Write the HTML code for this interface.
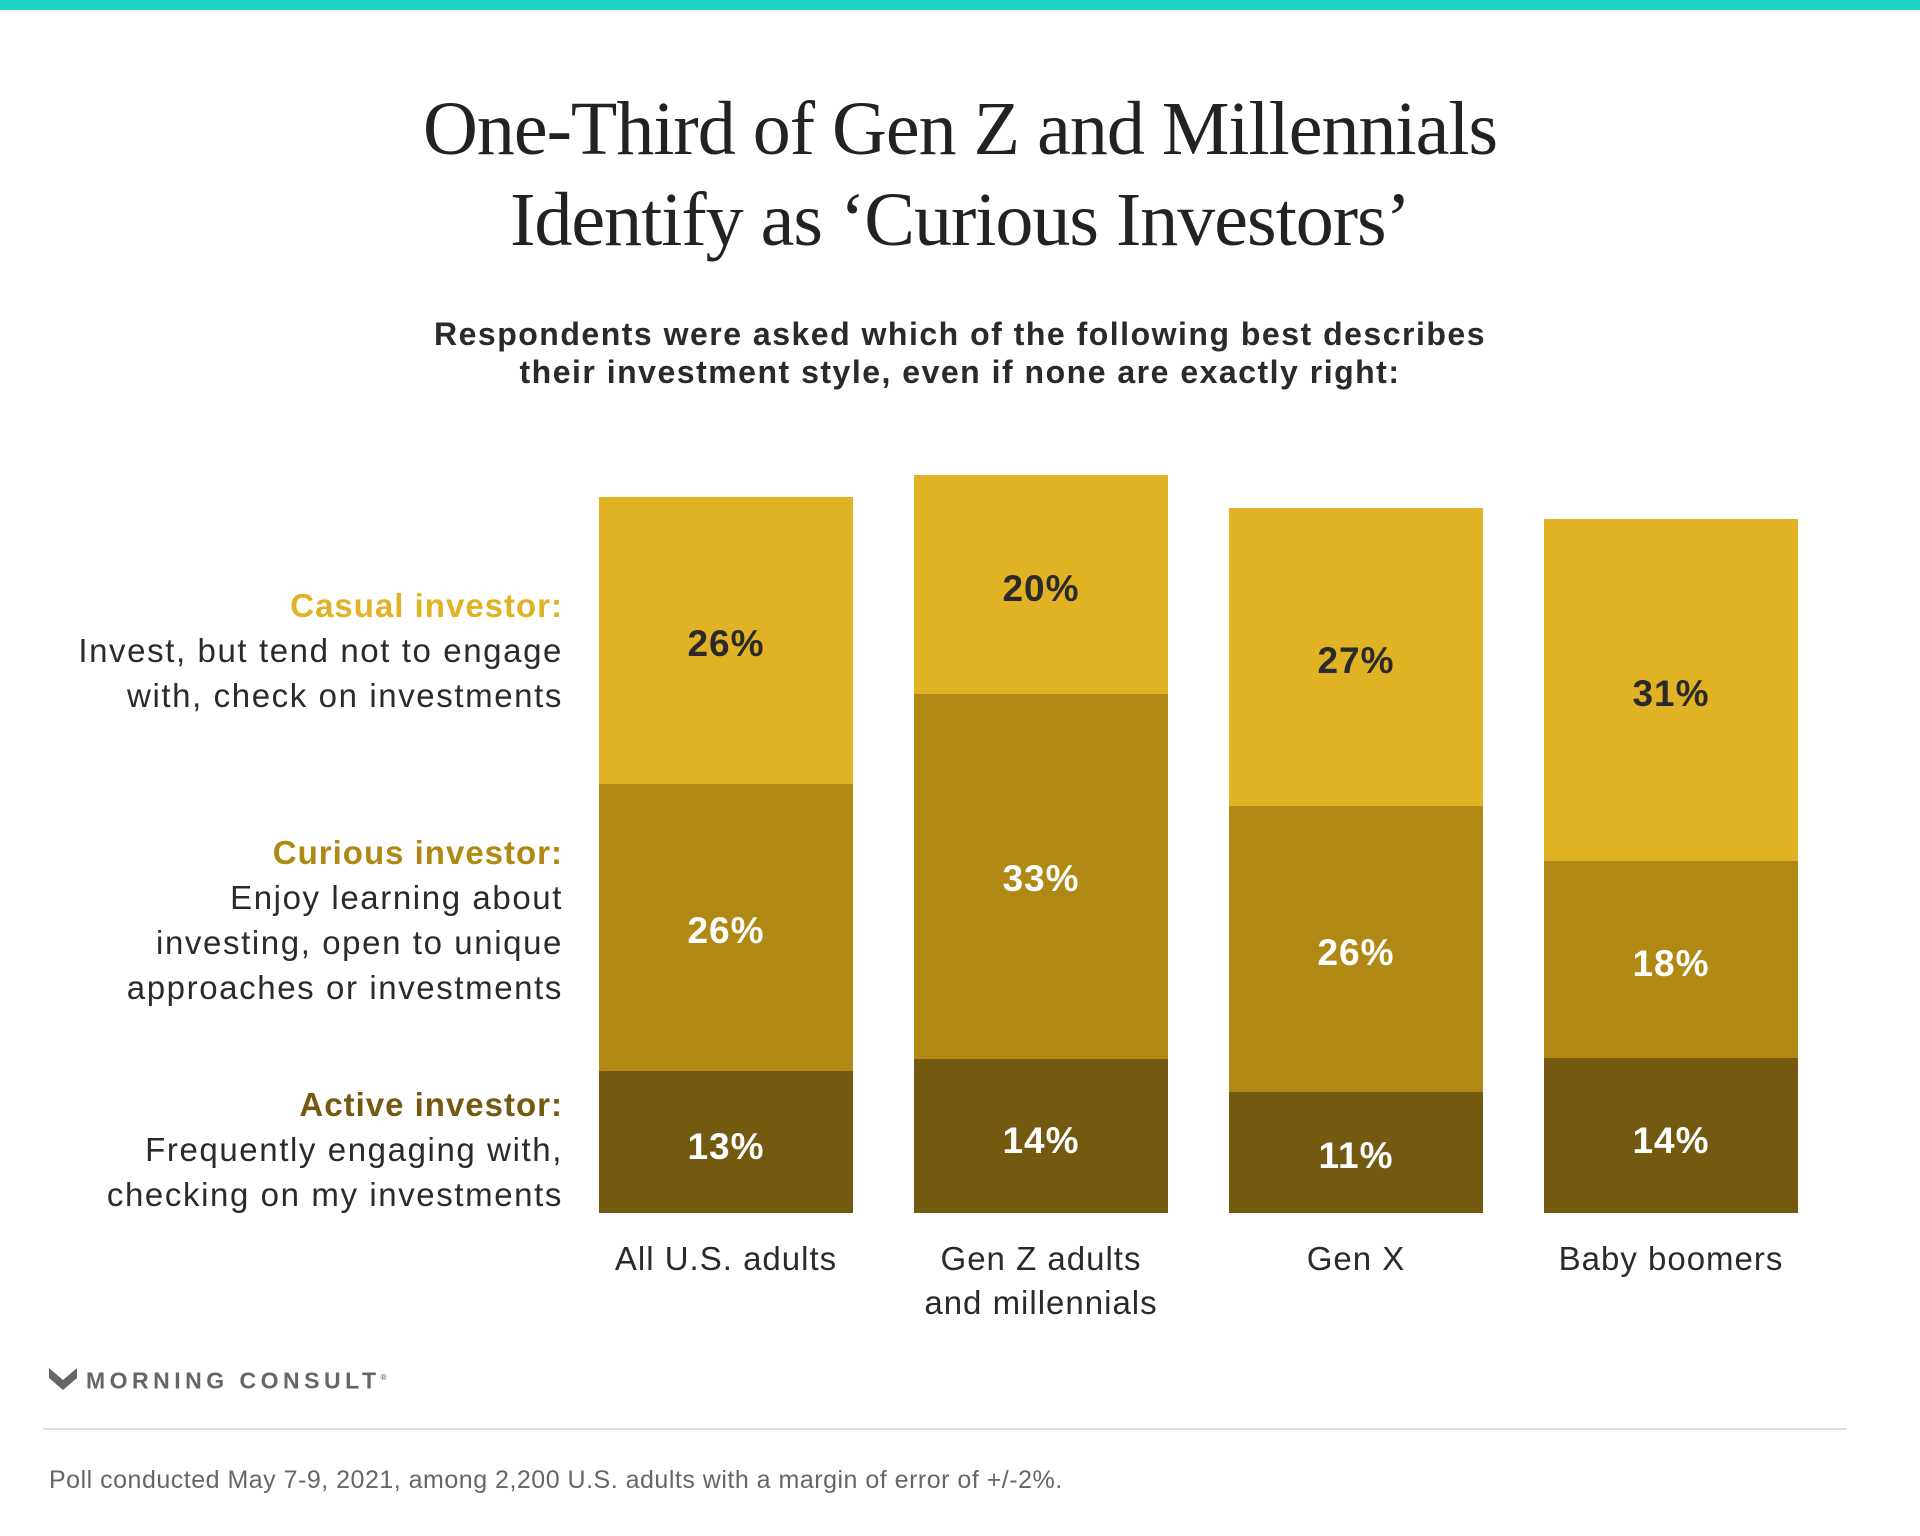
<!DOCTYPE html>
<html><head><meta charset="utf-8"><style>
body{margin:0;width:1920px;height:1536px;background:#fff;position:relative;overflow:hidden;font-family:"Liberation Sans",sans-serif}
.a{position:absolute}
.t{left:0;width:1920px;text-align:center;font-family:"Liberation Serif",serif;font-size:76px;color:#222;line-height:90px;letter-spacing:-1px}
.s{left:0;width:1920px;text-align:center;font-weight:bold;font-size:32px;color:#2a2a2a;line-height:40px;letter-spacing:1.5px}
.l{right:1357px;text-align:right;font-size:33px;color:#2a2a2a;line-height:45px;white-space:nowrap;letter-spacing:1.6px}
.l b{display:block;letter-spacing:1px}
.bar{position:absolute;width:254px}
.v{position:absolute;width:254px;text-align:center;font-weight:bold;font-size:37px;line-height:40px;letter-spacing:1px}
.x{position:absolute;width:340px;text-align:center;font-size:33px;color:#2a2a2a;line-height:44px;letter-spacing:1px}
</style></head><body>
<div class="a" style="left:0;top:0;width:1920px;height:10px;background:#1fd3c6"></div>
<div class="a t" style="top:84px">One-Third of Gen Z and Millennials</div>
<div class="a t" style="top:175px">Identify as ‘Curious Investors’</div>
<div class="a s" style="top:314px">Respondents were asked which of the following best describes</div>
<div class="a s" style="top:352px">their investment style, even if none are exactly right:</div>

<div class="a l" style="top:583px"><b style="color:#e2b225">Casual investor:</b>Invest, but tend not to engage<br>with, check on investments</div>
<div class="a l" style="top:830px"><b style="color:#b08915">Curious investor:</b>Enjoy learning about<br>investing, open to unique<br>approaches or investments</div>
<div class="a l" style="top:1082px"><b style="color:#745a10">Active investor:</b>Frequently engaging with,<br>checking on my investments</div>

<div class="bar" style="left:599px;top:497px;height:287px;background:#e2b225"></div>
<div class="bar" style="left:599px;top:784px;height:287px;background:#b08915"></div>
<div class="bar" style="left:599px;top:1071px;height:142px;background:#745a10"></div>
<div class="v" style="left:599px;top:624px;color:#2a2a2a">26%</div>
<div class="v" style="left:599px;top:911px;color:#fff">26%</div>
<div class="v" style="left:599px;top:1127px;color:#fff">13%</div>
<div class="bar" style="left:914px;top:475px;height:219px;background:#e2b225"></div>
<div class="bar" style="left:914px;top:694px;height:365px;background:#b08915"></div>
<div class="bar" style="left:914px;top:1059px;height:154px;background:#745a10"></div>
<div class="v" style="left:914px;top:569px;color:#2a2a2a">20%</div>
<div class="v" style="left:914px;top:859px;color:#fff">33%</div>
<div class="v" style="left:914px;top:1121px;color:#fff">14%</div>
<div class="bar" style="left:1229px;top:508px;height:298px;background:#e2b225"></div>
<div class="bar" style="left:1229px;top:806px;height:286px;background:#b08915"></div>
<div class="bar" style="left:1229px;top:1092px;height:121px;background:#745a10"></div>
<div class="v" style="left:1229px;top:641px;color:#2a2a2a">27%</div>
<div class="v" style="left:1229px;top:933px;color:#fff">26%</div>
<div class="v" style="left:1229px;top:1136px;color:#fff">11%</div>
<div class="bar" style="left:1544px;top:519px;height:342px;background:#e2b225"></div>
<div class="bar" style="left:1544px;top:861px;height:197px;background:#b08915"></div>
<div class="bar" style="left:1544px;top:1058px;height:155px;background:#745a10"></div>
<div class="v" style="left:1544px;top:674px;color:#2a2a2a">31%</div>
<div class="v" style="left:1544px;top:944px;color:#fff">18%</div>
<div class="v" style="left:1544px;top:1121px;color:#fff">14%</div>

<div class="x" style="left:556px;top:1237px">All U.S. adults</div>
<div class="x" style="left:871px;top:1237px">Gen Z adults<br>and millennials</div>
<div class="x" style="left:1186px;top:1237px">Gen X</div>
<div class="x" style="left:1501px;top:1237px">Baby boomers</div>

<svg class="a" style="left:49px;top:1368px" width="28" height="24" viewBox="0 0 28 24"><path d="M0 0 L14 12 L28 0 L28 10 L14 22 L0 10Z" fill="#666"/></svg>
<div class="a" style="left:86px;top:1365px;font-size:23px;font-weight:bold;color:#666;letter-spacing:4.5px;line-height:26px">MORNING CONSULT<sup style="font-size:8px">®</sup></div>
<div class="a" style="left:43px;top:1428px;width:1804px;height:2px;background:#ddd"></div>
<div class="a" style="left:49px;top:1466px;font-size:25px;color:#666;line-height:28px;letter-spacing:0.5px">Poll conducted May 7-9, 2021, among 2,200 U.S. adults with a margin of error of +/-2%.</div>
</body></html>
